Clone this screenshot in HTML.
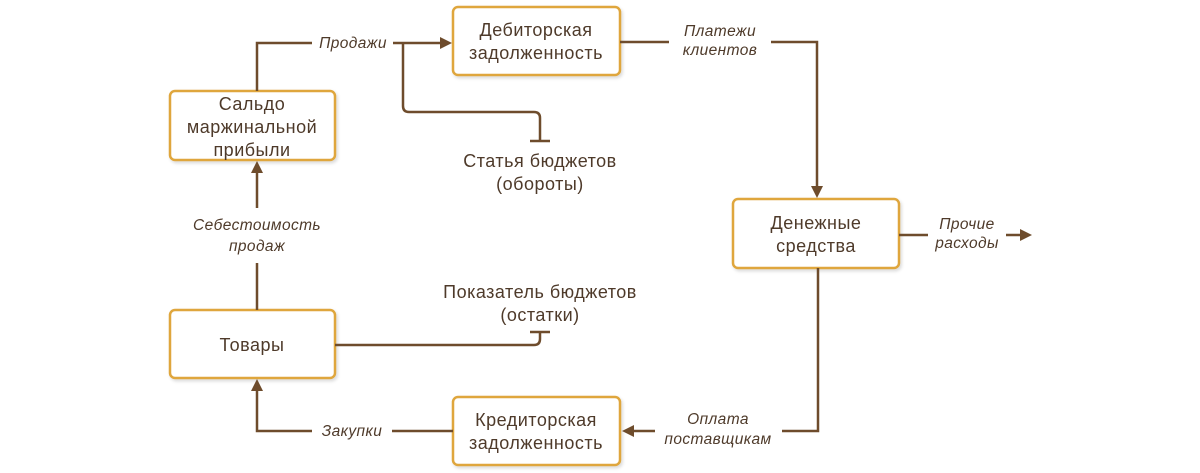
<!DOCTYPE html>
<html><head><meta charset="utf-8"><style>
html,body{margin:0;padding:0;background:#fff;width:1200px;height:473px;overflow:hidden}
svg{display:block}
.b{fill:#fff;stroke:#dfa63c;stroke-width:2.5}
.l{fill:none;stroke:#6e4c2c;stroke-width:2.5}
.t{font-family:"Liberation Sans",sans-serif;font-size:18px;letter-spacing:0.5px;fill:#4e3a2a;text-anchor:middle}
.i{font-family:"Liberation Sans",sans-serif;font-size:15.5px;letter-spacing:0.4px;font-style:italic;fill:#4e3a2a;text-anchor:middle}
.a{fill:#6e4c2c}
</style></head><body>
<svg width="1200" height="473" viewBox="0 0 1200 473">
<defs><filter id="s" x="-10%" y="-10%" width="130%" height="130%"><feDropShadow dx="1.5" dy="2" stdDeviation="1.5" flood-color="#000" flood-opacity="0.15"/></filter></defs>
<rect class="b" x="170" y="91" width="165" height="69" rx="5" filter="url(#s)"/>
<rect class="b" x="453" y="7" width="167" height="68" rx="5" filter="url(#s)"/>
<rect class="b" x="170" y="310" width="165" height="68" rx="5" filter="url(#s)"/>
<rect class="b" x="453" y="397" width="167" height="68" rx="5" filter="url(#s)"/>
<rect class="b" x="733" y="199" width="166" height="69" rx="5" filter="url(#s)"/>
<text class="t" x="252" y="110">Сальдо</text>
<text class="t" x="252" y="133">маржинальной</text>
<text class="t" x="252" y="156">прибыли</text>
<text class="t" x="536" y="36">Дебиторская</text>
<text class="t" x="536" y="59">задолженность</text>
<text class="t" x="252" y="351">Товары</text>
<text class="t" x="536" y="426">Кредиторская</text>
<text class="t" x="536" y="449">задолженность</text>
<text class="t" x="816" y="229">Денежные</text>
<text class="t" x="816" y="252">средства</text>
<text class="t" x="540" y="167">Статья бюджетов</text>
<text class="t" x="540" y="190">(обороты)</text>
<text class="t" x="540" y="298">Показатель бюджетов</text>
<text class="t" x="540" y="321">(остатки)</text>
<path class="l" d="M257,91 V43 H312 M393,43 H442"/>
<path class="a" d="M452,43 L440,37 L440,49 Z"/>
<text class="i" x="353" y="48">Продажи</text>
<path class="l" d="M403,43 V106 Q403,112 409,112 H534 Q540,112 540,118 V140 M530,141 H550"/>
<path class="l" d="M620,42 H669 M771,42 H817 V188"/>
<path class="a" d="M817,198 L811,186 L823,186 Z"/>
<text class="i" x="720" y="36">Платежи</text>
<text class="i" x="720" y="55">клиентов</text>
<path class="l" d="M899,235 H928 M1006,235 H1022"/>
<path class="a" d="M1032,235 L1020,229 L1020,241 Z"/>
<text class="i" x="967" y="229">Прочие</text>
<text class="i" x="967" y="248">расходы</text>
<path class="l" d="M818,268 V431 H782 M655,431 H632"/>
<path class="a" d="M622,431 L634,425 L634,437 Z"/>
<text class="i" x="718" y="424">Оплата</text>
<text class="i" x="718" y="444">поставщикам</text>
<path class="l" d="M453,431 H392 M312,431 H257 V390"/>
<path class="a" d="M257,379 L251,391 L263,391 Z"/>
<text class="i" x="352" y="436">Закупки</text>
<path class="l" d="M257,310 V263 M257,208 V172"/>
<path class="a" d="M257,161 L251,173 L263,173 Z"/>
<text class="i" x="257" y="230">Себестоимость</text>
<text class="i" x="257" y="251">продаж</text>
<path class="l" d="M335,345 H534 Q540,345 540,339 V332 M530,332 H550"/>
</svg>
</body></html>
